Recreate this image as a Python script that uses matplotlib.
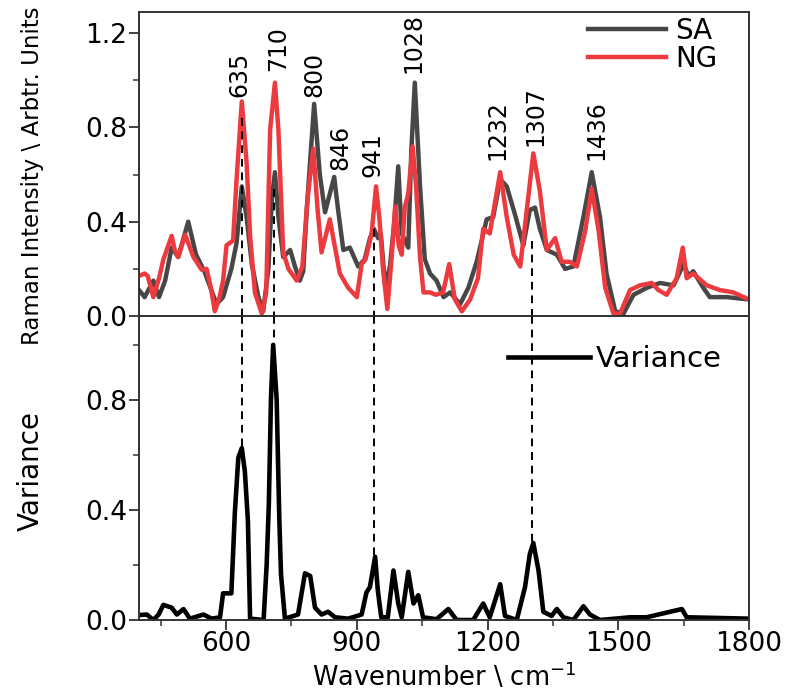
import matplotlib
matplotlib.use("Agg")
import matplotlib.pyplot as plt
from matplotlib.ticker import FixedLocator

plt.rcParams['font.family'] = ['DejaVu Sans']

# SA spectrum (grey)
sa_x = [400, 413, 433, 446, 460, 475, 490, 513, 531, 550, 578, 593, 612, 624, 636, 647,
        659, 674, 685, 697, 705, 712, 720, 731, 747, 758, 769, 777, 785, 802, 815, 827,
        848, 857, 869, 884, 903, 918, 930, 939, 949, 955, 965, 976, 986, 995, 1003, 1018,
        1025, 1033, 1045, 1056, 1068, 1083, 1099, 1114, 1137, 1156, 1175, 1198, 1213, 1229,
        1244, 1263, 1282, 1297, 1309, 1320, 1336, 1359, 1378, 1397, 1420, 1439, 1458, 1473,
        1493, 1512, 1535, 1566, 1596, 1627, 1650, 1661, 1672, 1695, 1710, 1749, 1800]
sa_y = [0.11, 0.08, 0.15, 0.08, 0.15, 0.29, 0.25, 0.40, 0.26, 0.19, 0.05, 0.08, 0.20, 0.31, 0.55, 0.42,
        0.22, 0.08, 0.02, 0.20, 0.50, 0.61, 0.42, 0.25, 0.28, 0.21, 0.15, 0.19, 0.45, 0.90, 0.60, 0.44,
        0.59, 0.45, 0.28, 0.29, 0.21, 0.24, 0.33, 0.37, 0.33, 0.35, 0.125, 0.21, 0.40, 0.635, 0.35, 0.29,
        0.70, 0.99, 0.55, 0.24, 0.18, 0.15, 0.08, 0.10, 0.05, 0.12, 0.23, 0.41, 0.42, 0.58,
        0.55, 0.43, 0.30, 0.45, 0.46, 0.37, 0.28, 0.26, 0.20, 0.21, 0.42, 0.61, 0.42, 0.18,
        0.02, 0.01, 0.09, 0.12, 0.14, 0.13, 0.22, 0.17, 0.19, 0.12, 0.08, 0.08, 0.07]

# NG spectrum (red)
ng_x = [400, 413, 420, 433, 446, 456, 475, 482, 490, 506, 515, 525, 544, 555, 565, 574,
        585, 593, 601, 616, 624, 636, 647, 655, 666, 682, 692, 701, 712, 720, 731, 743,
        762, 775, 787, 800, 810, 819, 838, 849, 861, 880, 900, 911, 920, 934, 944, 952,
        960, 970, 980, 988, 996, 1003, 1010, 1018, 1028, 1036, 1045, 1053, 1068, 1081, 1098,
        1112, 1125, 1141, 1160, 1178, 1190, 1205, 1229, 1244, 1260, 1275, 1290, 1305, 1320,
        1336, 1355, 1370, 1389, 1405, 1424, 1439, 1455, 1470, 1489, 1504, 1527, 1550, 1577,
        1592, 1611, 1634, 1648, 1657, 1672, 1703, 1733, 1764, 1800]
ng_y = [0.17, 0.18, 0.17, 0.08, 0.16, 0.24, 0.34, 0.28, 0.25, 0.345, 0.30, 0.25, 0.196, 0.20, 0.12, 0.02,
        0.08, 0.15, 0.30, 0.32, 0.58, 0.91, 0.65, 0.34, 0.10, 0.01, 0.10, 0.79, 0.99, 0.79, 0.27, 0.20,
        0.15, 0.21, 0.50, 0.71, 0.45, 0.27, 0.41, 0.30, 0.18, 0.12, 0.08, 0.22, 0.24, 0.35, 0.55, 0.41,
        0.20, 0.03, 0.25, 0.465, 0.30, 0.26, 0.46, 0.52, 0.72, 0.55, 0.25, 0.10, 0.10, 0.09, 0.10,
        0.22, 0.07, 0.02, 0.07, 0.16, 0.37, 0.35, 0.61, 0.42, 0.26, 0.21, 0.45, 0.69, 0.53,
        0.28, 0.33, 0.23, 0.23, 0.21, 0.36, 0.54, 0.36, 0.12, 0.01, 0.01, 0.11, 0.13, 0.14,
        0.11, 0.09, 0.16, 0.29, 0.16, 0.18, 0.13, 0.11, 0.10, 0.07]

# variance
var_x = [400, 418, 433, 445, 456, 475, 487, 502, 517, 548, 567, 586, 593, 612, 620, 628,
         636, 643, 650, 655, 686, 693, 698, 703, 708, 716, 722, 726, 735, 765, 781, 793,
         804, 819, 834, 850, 880, 911, 922, 930, 942, 948, 956, 971, 984, 995, 1003, 1018,
         1030, 1041, 1052, 1083, 1110, 1129, 1167, 1190, 1205, 1229, 1240, 1267, 1286, 1297,
         1305, 1317, 1328, 1347, 1359, 1374, 1397, 1420, 1435, 1458, 1527, 1565, 1646, 1657, 1800]
var_y = [0.018, 0.02, 0.0, 0.02, 0.055, 0.045, 0.02, 0.04, 0.005, 0.02, 0.005, 0.01, 0.097, 0.097, 0.39, 0.59,
         0.625, 0.54, 0.36, 0.005, 0.0, 0.20, 0.42, 0.81, 1.0, 0.80, 0.37, 0.165, 0.005, 0.02, 0.17, 0.16,
         0.045, 0.02, 0.03, 0.01, 0.005, 0.02, 0.10, 0.12, 0.23, 0.11, 0.01, 0.01, 0.18, 0.06, 0.01, 0.175,
         0.06, 0.09, 0.01, 0.003, 0.04, 0.0, 0.0, 0.06, 0.01, 0.13, 0.015, 0.0, 0.12, 0.24,
         0.28, 0.18, 0.03, 0.015, 0.04, 0.01, 0.0, 0.05, 0.02, 0.0, 0.01, 0.01, 0.04, 0.01, 0.005]

# peak labels in the top panel
peak_labels = ["635", "710", "800", "846", "941", "1028", "1232", "1307", "1436"]
label_x = [631, 720, 803, 862, 935, 1030, 1222, 1309, 1449]
label_y = [0.93, 1.04, 0.93, 0.62, 0.59, 1.03, 0.66, 0.72, 0.66]

# dashed guide lines linking the two panels
guide_x = [636, 710, 940, 1302]
guide_top = [0.84, 0.54, 0.37, 0.32]
guide_bottom = [0.62, 1.0, 0.22, 0.27]

fig = plt.figure(figsize=(7.91, 6.92), dpi=100)
ax1 = fig.add_axes([0.1757, 0.5434, 0.7712, 0.4393])
ax2 = fig.add_axes([0.1757, 0.1040, 0.7712, 0.4394])

ax1.plot(sa_x, sa_y, color='#474747', lw=3.2, label='SA')
ax1.plot(ng_x, ng_y, color='#ec3a3e', lw=3.2, label='NG')
ax2.plot(var_x, var_y, color='black', lw=3.3, label='Variance')

for x, yt, yb in zip(guide_x, guide_top, guide_bottom):
    ax1.plot([x, x], [yt, 0], color='black', lw=1.4, ls=(0, (4, 3)), zorder=5, clip_on=False)
    ax2.plot([x, x], [1.105, yb], color='black', lw=1.4, ls=(0, (4, 3)), zorder=5, clip_on=False)

for txt, x, y in zip(peak_labels, label_x, label_y):
    ax1.text(x, y, txt, rotation=90, ha='center', va='bottom', fontsize=17)

for ax in (ax1, ax2):
    ax.set_xlim(400, 1800)
    ax.xaxis.set_major_locator(FixedLocator([600, 900, 1200, 1500, 1800]))
    ax.xaxis.set_minor_locator(FixedLocator([450, 750, 1050, 1350, 1650]))
    ax.tick_params(which='major', direction='out', length=7, width=1.3, labelsize=19,
                   colors='#333333', labelcolor='black')
    ax.tick_params(which='minor', direction='out', length=4, width=1.1, colors='#333333')
    ax.tick_params(axis='y', pad=1.5)
    ax.tick_params(axis='x', pad=1.0)
    for s in ax.spines.values():
        s.set_linewidth(1.4)
        s.set_color('#333333')

ax1.set_ylim(0, 1.29)
ax1.yaxis.set_major_locator(FixedLocator([0.0, 0.4, 0.8, 1.2]))
ax1.yaxis.set_minor_locator(FixedLocator([0.2, 0.6, 1.0]))
ax1.set_yticklabels(["0.0", "0.4", "0.8", "1.2"])
ax1.tick_params(labelbottom=False)

ax2.set_ylim(0, 1.105)
ax2.yaxis.set_major_locator(FixedLocator([0.0, 0.4, 0.8]))
ax2.yaxis.set_minor_locator(FixedLocator([0.2, 0.6, 1.0]))
ax2.set_yticklabels(["0.0", "0.4", "0.8"])

ax1.set_ylabel("Raman Intensity \\ Arbtr. Units", fontsize=16.5)
ax1.yaxis.set_label_coords(-0.155, 0.46)
ax2.set_ylabel("Variance", fontsize=20)
ax2.yaxis.set_label_coords(-0.155, 0.49)
ax2.set_xlabel("Wavenumber \\ cm$^{-1}$", fontsize=18.5)
ax2.xaxis.set_label_coords(0.5, -0.137)

ax1.legend(loc='upper left', bbox_to_anchor=(0.736, 0.985), frameon=False, fontsize=20,
           handlelength=2.8, handletextpad=0.33, labelspacing=0.02, borderpad=0, borderaxespad=0)
ax2.legend(loc='upper left', bbox_to_anchor=(0.605, 0.905), frameon=False, fontsize=21,
           handlelength=2.8, handletextpad=0.2, borderpad=0, borderaxespad=0)

fig.savefig("out.png", dpi=100)
